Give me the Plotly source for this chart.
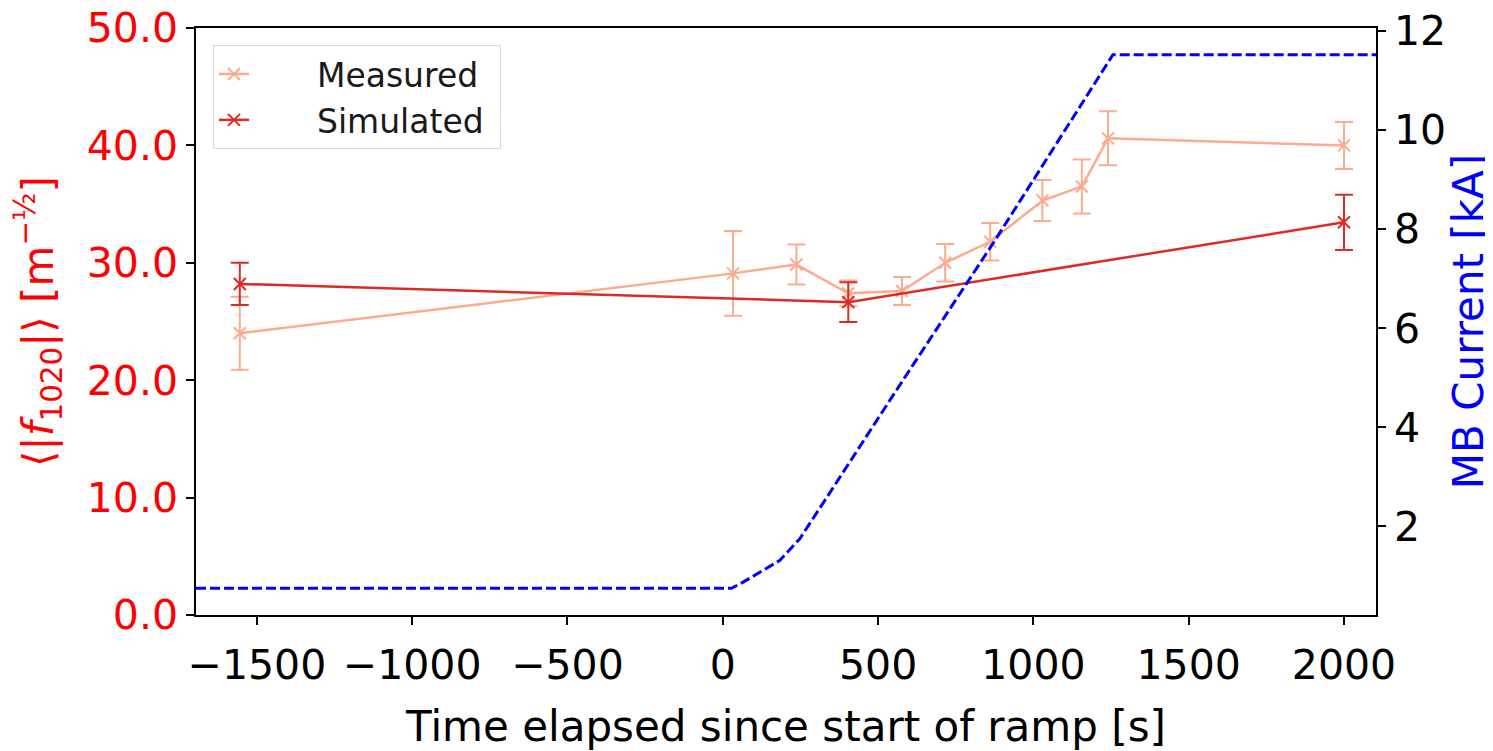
import plotly.graph_objects as go

# Measured data
meas_t = [-1555, 33, 237, 404, 577, 716, 861, 1029, 1156, 1240, 2000]
meas_v = [24.0, 29.1, 29.85, 27.4, 27.6, 30.0, 31.8, 35.3, 36.5, 40.6, 40.0]
meas_e = [3.1, 3.6, 1.7, 1.1, 1.2, 1.6, 1.6, 1.75, 2.3, 2.3, 2.0]

# Simulated data
sim_t = [-1555, 404, 2000]
sim_v = [28.2, 26.65, 33.45]
sim_e = [1.8, 1.7, 2.35]

# MB current (ramp)
ramp_t = [-1696, 28, 64, 119, 183, 248, 302, 328, 580, 876, 1256, 2103]
ramp_I = [0.75, 0.75, 0.87, 1.07, 1.31, 1.75, 2.26, 2.52, 4.95, 7.77, 11.52, 11.52]

x_range = [-1696, 2103]
x_ticks = [-1500, -1000, -500, 0, 500, 1000, 1500, 2000]
x_ticklabels = ["\u22121500", "\u22121000", "\u2212500", "0", "500", "1000", "1500", "2000"]

C_MEAS = "#fcab8f"
C_SIM = "#dc2a26"
FONT = "DejaVu Sans"
TICK = 41
TITLE = 42
PAD = "\u00a0" * 6

fig = go.Figure()

fig.add_trace(go.Scatter(
    x=meas_t, y=meas_v, name=PAD + "Measured\u00a0", mode="lines+markers",
    line=dict(color=C_MEAS, width=2.5),
    marker=dict(symbol="x-thin", size=12, line=dict(color=C_MEAS, width=2)),
    error_y=dict(type="data", array=meas_e, visible=True, color=C_MEAS, thickness=2, width=9),
    yaxis="y",
))
fig.add_trace(go.Scatter(
    x=sim_t, y=sim_v, name=PAD + "Simulated\u00a0", mode="lines+markers",
    line=dict(color=C_SIM, width=2.5),
    marker=dict(symbol="x-thin", size=12, line=dict(color=C_SIM, width=2)),
    error_y=dict(type="data", array=sim_e, visible=True, color=C_SIM, thickness=2, width=9),
    yaxis="y",
))
fig.add_trace(go.Scatter(
    x=ramp_t, y=ramp_I, mode="lines", showlegend=False,
    line=dict(color="#0000ff", width=3, dash="10px,4px"),
    yaxis="y2",
))

fig.update_layout(
    width=1485, height=743,
    margin=dict(l=188, r=117, t=20, b=136, autoexpand=False),
    plot_bgcolor="white", paper_bgcolor="white",
    font=dict(family=FONT, size=TICK, color="black"),
    showlegend=True,
    legend=dict(
        x=0.0144, y=0.971, xanchor="left", yanchor="top",
        bgcolor="rgba(255,255,255,0.8)", bordercolor="#d9d9d9", borderwidth=1,
        font=dict(size=33, color="#1a1a1a"), tracegroupgap=4,
    ),
    xaxis=dict(
        range=x_range, tickmode="array", tickvals=x_ticks, ticktext=x_ticklabels,
        showgrid=False, zeroline=False, showline=True, linecolor="black", linewidth=1.5,
        mirror=True, ticks="outside", ticklen=8, tickwidth=1.5, tickcolor="black",
        automargin=False, ticklabeloverflow="allow", ticklabelstandoff=5,
        title=dict(text="Time elapsed since start of ramp [s]", font=dict(size=TITLE), standoff=24),
        tickfont=dict(size=TICK, color="black"),
    ),
    yaxis=dict(
        range=[0, 50], tickmode="linear", tick0=0, dtick=10, tickformat=".1f",
        showgrid=False, zeroline=False, showline=True, linecolor="black", linewidth=1.5,
        ticks="outside", ticklen=8, tickwidth=1.5, tickcolor="black", automargin=False,
        ticklabeloverflow="allow",
        tickfont=dict(size=TICK, color="#ff0000"),
        title=dict(text="\u27e8|<i>f</i><sub>1020</sub>|\u27e9 [m<sup>\u2212\u00bd</sup>]",
                   font=dict(size=TITLE, color="#ff0000"), standoff=20),
    ),
    yaxis2=dict(
        range=[0.211, 12.06], overlaying="y", side="right", anchor="x",
        tickmode="linear", tick0=0, dtick=2,
        showgrid=False, zeroline=False, showline=True, linecolor="black", linewidth=1.5,
        ticks="outside", ticklen=8, tickwidth=1.5, tickcolor="black", automargin=False,
        ticklabeloverflow="allow",
        tickfont=dict(size=TICK, color="black"),
        title=dict(text="MB Current [kA]", font=dict(size=TITLE, color="#0000ff"), standoff=8),
    ),
)

fig.write_html("out.html")
